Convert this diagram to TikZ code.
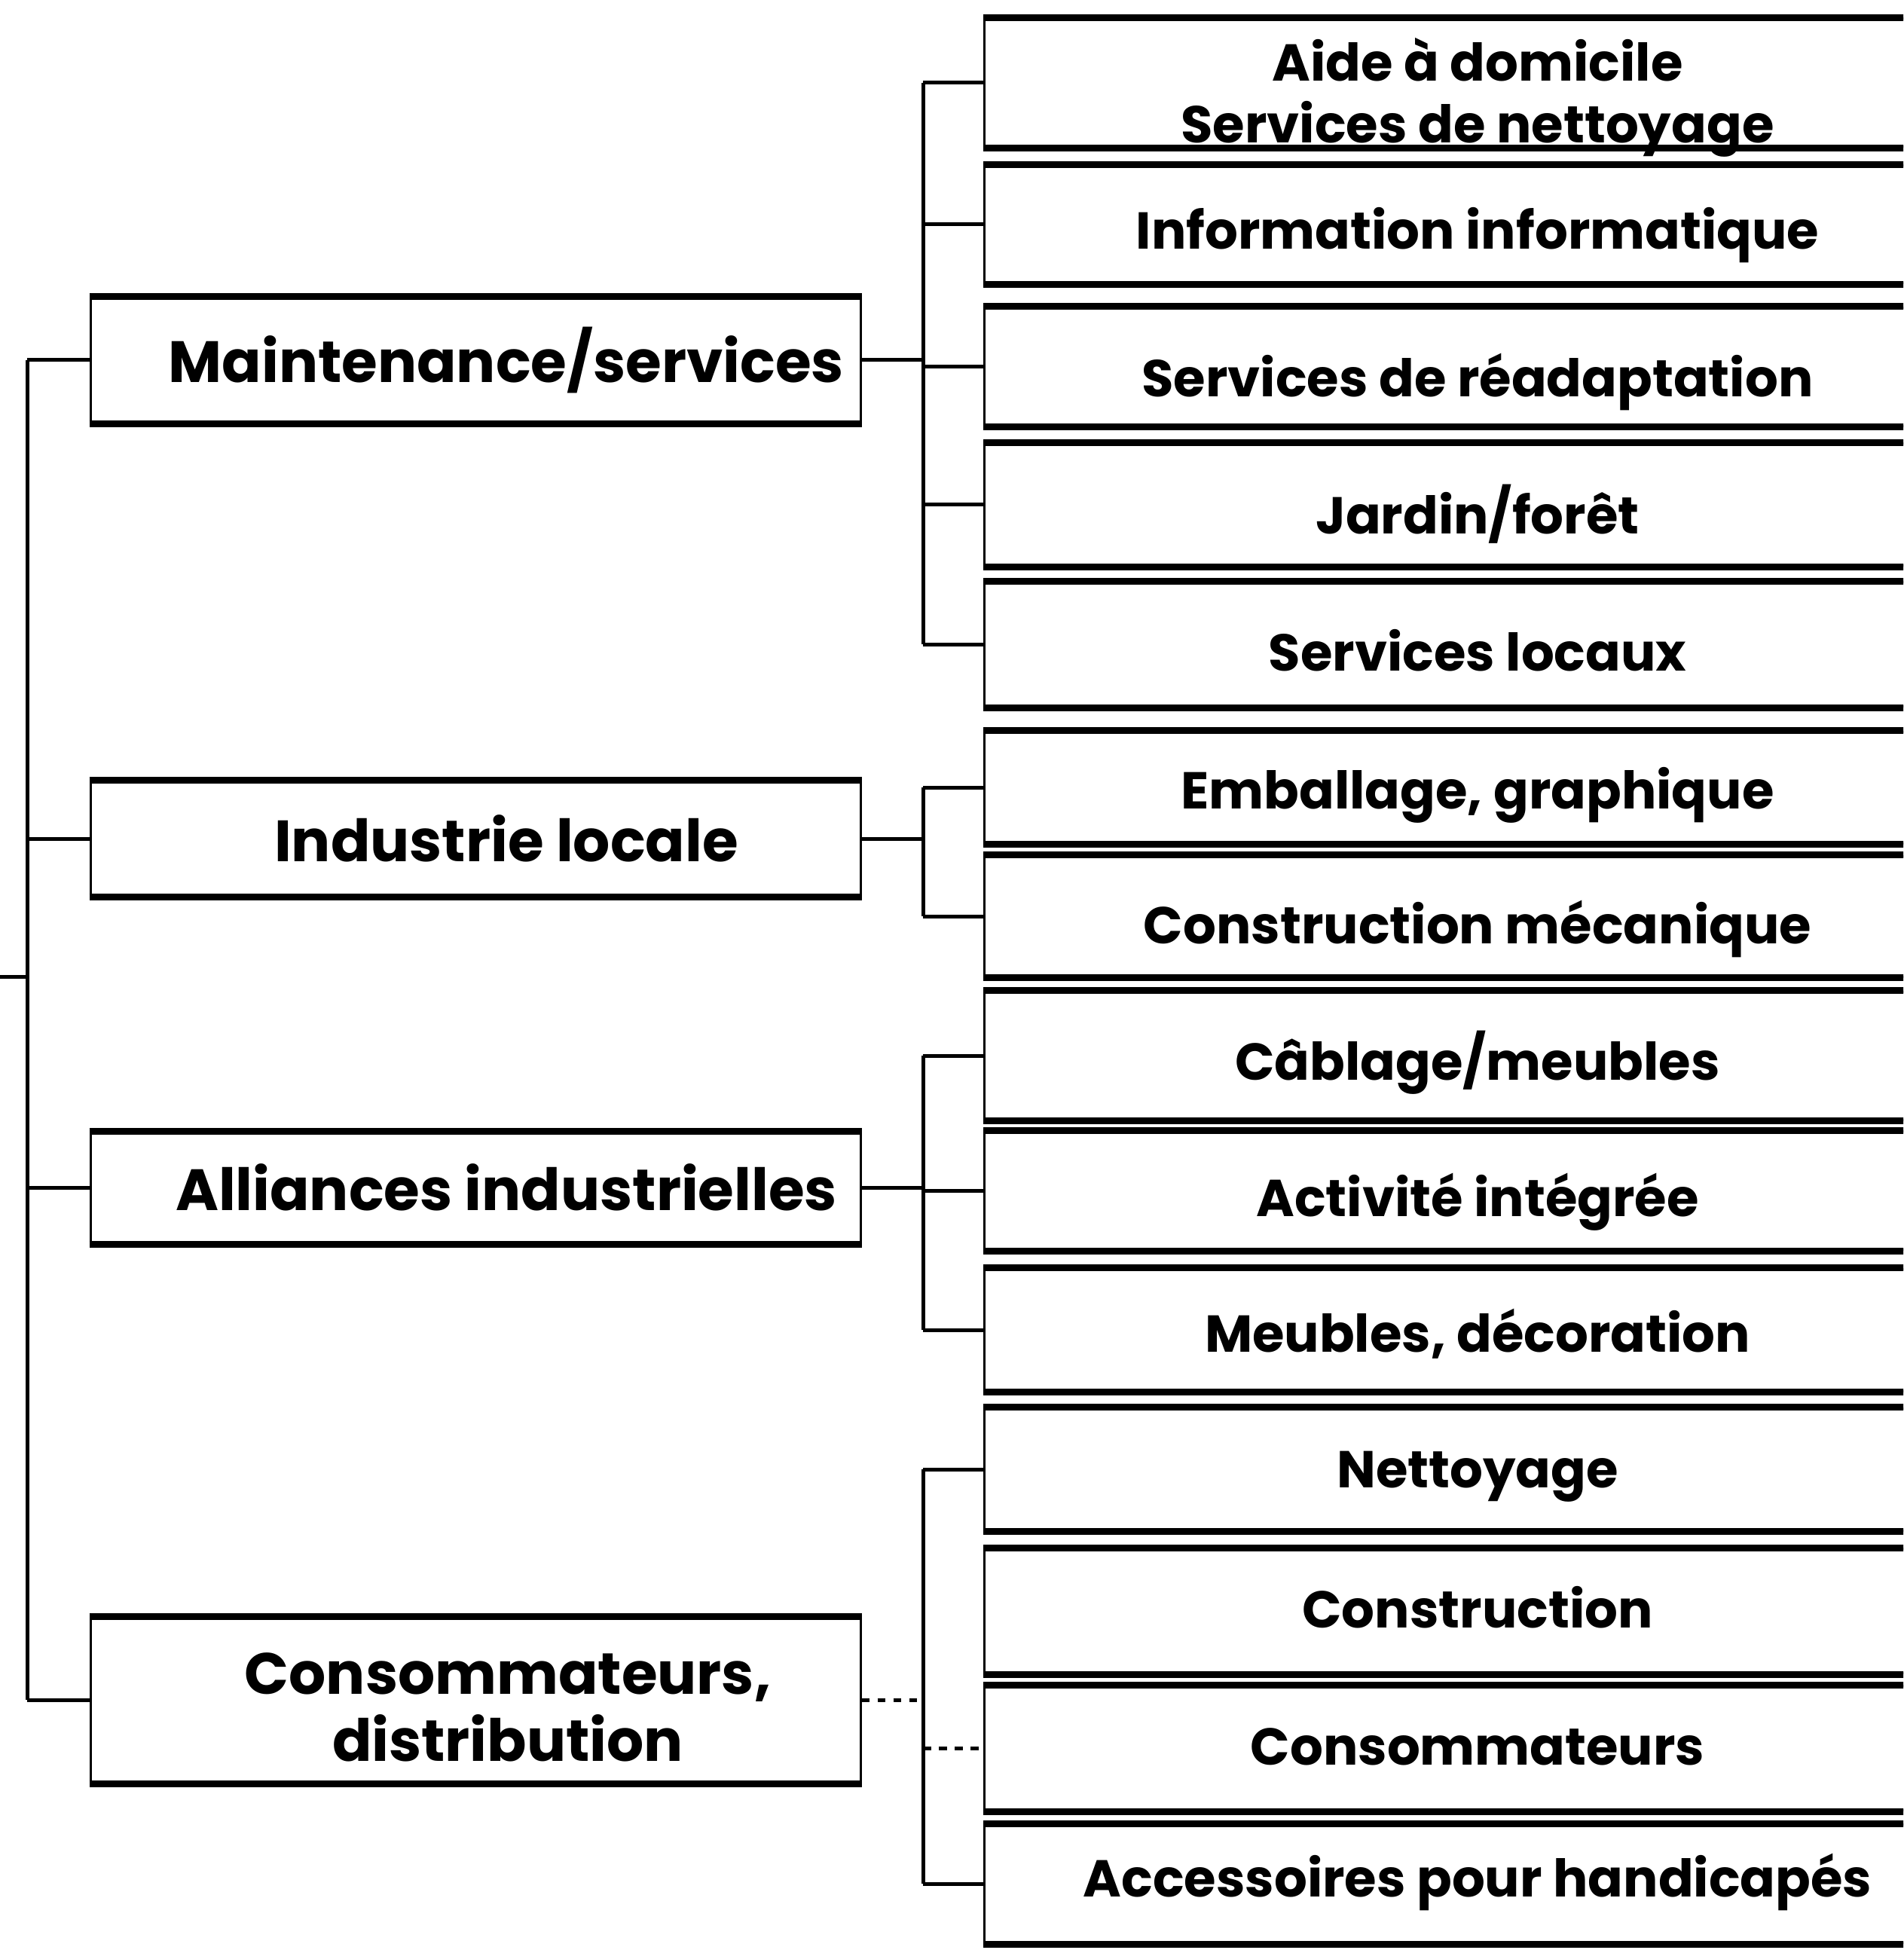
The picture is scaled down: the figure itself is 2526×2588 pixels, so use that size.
\documentclass[tikz,border=0pt]{standalone}
\usepackage{fontspec}
\setmainfont{Poppins}
\begin{document}
\begin{tikzpicture}[x=0.1mm,y=-0.1mm,
  lbox/.style={minimum width=102.2mm, inner sep=0pt, draw, line width=0.3mm},
  rbox/.style={minimum width=131.3mm, inner sep=0pt, draw, line width=0.3mm},
  lbl/.style={font=\bfseries\fontsize{22}{25.2}\selectfont, align=center, inner sep=0pt},
  rlbl/.style={font=\bfseries\fontsize{19.6}{23.3}\selectfont, align=center, inner sep=0pt},
  edge/.style={line width=0.5mm},
  rim/.style={line width=0.9mm}]
\useasboundingbox (0,0) rectangle (2526,2588);
\clip (0,0) rectangle (2526,2588);

% first level boxes
\node[lbox, minimum height=16.6mm] (m) at (631,478) {};
\node[lbox, minimum height=15.2mm] (i) at (631,1113) {};
\node[lbox, minimum height=14.7mm] (a) at (631,1576) {};
\node[lbox, minimum height=21.9mm] (c) at (631,2256) {};
\node[lbl] (mt) at (672,478) {Maintenance/services};
\node[lbl] (it) at (672,1113) {Industrie locale};
\node[lbl] (at) at (672,1576) {Alliances industrielles};
\node[lbl] (ct) at (674,2266) {Consommateurs,\\distribution};

% second level boxes
\node[rbox, minimum height=17.0mm] (r1) at (1963,110) {};
\node[rbox, minimum height=15.6mm] (r2) at (1963,298) {};
\node[rbox, minimum height=15.7mm] (r3) at (1963,487) {};
\node[rbox, minimum height=16.2mm] (r4) at (1963,670) {};
\node[rbox, minimum height=16.5mm] (r5) at (1963,855) {};
\node[rbox, minimum height=14.8mm] (r6) at (1963,1045) {};
\node[rbox, minimum height=16.0mm] (r7) at (1963,1216) {};
\node[rbox, minimum height=17.0mm] (r8) at (1963,1401) {};
\node[rbox, minimum height=15.7mm] (r9) at (1963,1580) {};
\node[rbox, minimum height=16.2mm] (r10) at (1963,1765) {};
\node[rbox, minimum height=16.2mm] (r11) at (1963,1950) {};
\node[rbox, minimum height=16.5mm] (r12) at (1963,2138) {};
\node[rbox, minimum height=16.5mm] (r13) at (1963,2320) {};
\node[rbox, minimum height=15.7mm] (r14) at (1963,2500) {};

\node[rlbl] (t1) at (1961,129) {Aide à domicile\\Services de nettoyage};
\node[rlbl] (t2) at (1961,312) {Information informatique};
\node[rlbl] (t3) at (1961,507) {Services de réadaptation};
\node[rlbl] (t4) at (1961,682) {Jardin/forêt};
\node[rlbl] (t5) at (1961,863) {Services locaux};
\node[rlbl] (t6) at (1961,1055) {Emballage, graphique};
\node[rlbl] (t7) at (1961,1233) {Construction mécanique};
\node[rlbl] (t8) at (1961,1410) {Câblage/meubles};
\node[rlbl] (t9) at (1961,1595) {Activité intégrée};
\node[rlbl] (t10) at (1961,1770) {Meubles, décoration};
\node[rlbl] (t11) at (1961,1960) {Nettoyage};
\node[rlbl] (t12) at (1961,2133) {Construction};
\node[rlbl] (t13) at (1961,2318) {Consommateurs};
\node[rlbl] (t14) at (1961,2498) {Accessoires pour handicapés};

% heavy top and bottom rules of every box
\foreach \n in {m,i,a,c,r1,r2,r3,r4,r5,r6,r7,r8,r9,r10,r11,r12,r13,r14}
  \draw[rim] (\n.north west) -- (\n.north east) (\n.south west) -- (\n.south east);

% root trunk
\coordinate (root) at (0,1296);
\coordinate (rootj) at (36,1296);
\draw[edge] (root) -- (rootj);
\draw[edge] (m.west -| rootj) -- (c.west -| rootj);
\foreach \n in {m,i,a,c}
  \draw[edge] (\n.west -| rootj) -- (\n.west);

% second level trunks
\coordinate (g) at (1225,0);
\draw[edge] (r1.west -| g) -- (r5.west -| g);
\draw[edge] (m.east) -- (m.east -| g);
\foreach \k in {1,...,5}
  \draw[edge] (r\k.west -| g) -- (r\k.west);

\draw[edge] (r6.west -| g) -- (r7.west -| g);
\draw[edge] (i.east) -- (i.east -| g);
\foreach \k in {6,7}
  \draw[edge] (r\k.west -| g) -- (r\k.west);

\draw[edge] (r8.west -| g) -- (r10.west -| g);
\draw[edge] (a.east) -- (a.east -| g);
\foreach \k in {8,9,10}
  \draw[edge] (r\k.west -| g) -- (r\k.west);

\draw[edge] (r11.west -| g) -- (r14.west -| g);
\draw[edge, dashed] (c.east) -- (c.east -| g);
\draw[edge] (r11.west -| g) -- (r11.west);
\draw[edge, dashed] (r13.west -| g) -- (r13.west);
\draw[edge] (r14.west -| g) -- (r14.west);
\end{tikzpicture}
\end{document}
